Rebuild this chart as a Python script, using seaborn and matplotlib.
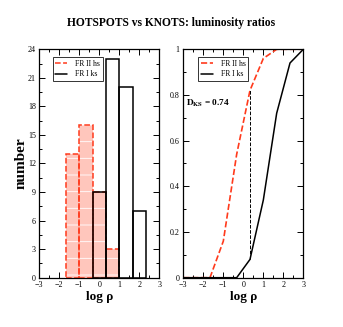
import numpy as np
import matplotlib
matplotlib.use("Agg")
import matplotlib.pyplot as plt
import seaborn as sns
from matplotlib.ticker import MultipleLocator

# histogram data (log rho bins)
fr2_edges = [-1.667, -1.0, -0.333, 0.333, 1.0]
fr2_counts = [13, 16, 9, 3]
fr1_edges = [-0.333, 0.333, 1.0, 1.667, 2.333]
fr1_counts = [9, 23, 20, 7]

# cumulative distributions
fr2_cdf_x = [-3, -1.667, -1.0, -0.333, 0.333, 1.0, 1.667, 2.333, 3]
fr2_cdf_y = [0, 0, 0.16, 0.54, 0.82, 0.96, 1.0, 1.0, 1.0]
fr1_cdf_x = [-3, -0.333, 0.333, 1.0, 1.667, 2.333, 3]
fr1_cdf_y = [0, 0, 0.08, 0.34, 0.72, 0.94, 1.0]
d_ks_x = 0.333
d_ks = 0.74

RED = "#ff3a1c"
SALMON = "#ffc6bc"

sns.set_style("ticks", rc={"text.color": "black", "axes.labelcolor": "black",
                           "xtick.color": "black", "ytick.color": "black",
                           "axes.edgecolor": "black"})
plt.rcParams["font.family"] = ["Liberation Serif", "DejaVu Serif"]
plt.rcParams["mathtext.fontset"] = "stix"
plt.rcParams["hatch.linewidth"] = 0.6

fig = plt.figure(figsize=(3.43, 3.27), dpi=100)
ax1 = fig.add_axes([0.1146, 0.1508, 0.35, 0.6985])
ax2 = fig.add_axes([0.5344, 0.1508, 0.35, 0.6985])


def centers(edges):
    e = np.asarray(edges)
    return (e[:-1] + e[1:]) / 2


# left panel: histograms
sns.histplot(x=centers(fr2_edges), weights=fr2_counts, bins=fr2_edges, ax=ax1,
             element="bars", fill=True, facecolor=SALMON, edgecolor="white",
             linewidth=0, hatch="-", alpha=1)
sns.histplot(x=centers(fr2_edges), weights=fr2_counts, bins=fr2_edges, ax=ax1,
             element="bars", fill=False, color=RED, linestyle="--", linewidth=1.1)
sns.histplot(x=centers(fr1_edges), weights=fr1_counts, bins=fr1_edges, ax=ax1,
             element="bars", fill=False, color="black", linewidth=1.1)
ax1.plot([], [], color=RED, ls="--", lw=1.1, label="FR II hs")
ax1.plot([], [], color="black", lw=1.1, label="FR I ks")
ax1.set_ylim(0, 24)
ax1.yaxis.set_major_locator(MultipleLocator(3))
ax1.yaxis.set_minor_locator(MultipleLocator(1.5))
ax1.set_ylabel("number", fontsize=11, fontweight="bold", labelpad=0)

# right panel: cumulative distributions
sns.lineplot(x=fr2_cdf_x, y=fr2_cdf_y, ax=ax2, color=RED, linestyle="--",
             linewidth=1.2, label="FR II hs")
sns.lineplot(x=fr1_cdf_x, y=fr1_cdf_y, ax=ax2, color="black", linewidth=1.1,
             label="FR I ks")
ax2.plot([d_ks_x, d_ks_x], [0.08, 0.82], color="black", ls="--", lw=0.7)
ax2.text(-2.87, 0.765, r"$\mathbf{D_{KS}}$" + f" = {d_ks}", fontsize=6.7,
         fontweight="bold", va="center", ha="left")
ax2.set_ylim(0, 1)
ax2.yaxis.set_minor_locator(MultipleLocator(0.1))
ax2.set_yticks([0, 0.2, 0.4, 0.6, 0.8, 1.0], ["0", "0.2", "0.4", "0.6", "0.8", "1"])
ax2.set_ylabel("")

for ax, lx in ((ax1, 0.11), (ax2, 0.125)):
    ax.set_xlim(-3, 3)
    ax.xaxis.set_major_locator(MultipleLocator(1))
    ax.xaxis.set_minor_locator(MultipleLocator(0.5))
    ax.set_xlabel("log ρ", fontsize=9.5, fontweight="bold", labelpad=1)
    ax.tick_params(which="both", direction="in", top=True, right=True,
                   labelsize=5.8, pad=2.5, width=0.7)
    ax.tick_params(which="major", length=4)
    ax.tick_params(which="minor", length=2)
    for s in ax.spines.values():
        s.set_linewidth(0.9)
    leg = ax.legend(loc="upper left", bbox_to_anchor=(lx, 0.965), fontsize=5.5,
                    frameon=True, fancybox=False, edgecolor="black",
                    handlelength=1.6, borderpad=0.35, labelspacing=0.3,
                    handletextpad=1.0, borderaxespad=0)
    leg.get_frame().set_linewidth(0.7)

fig.text(0.5, 0.93, "HOTSPOTS vs KNOTS: luminosity ratios", ha="center",
         va="center", fontsize=8.3, fontweight="bold")

fig.savefig("out.png", dpi=100)
